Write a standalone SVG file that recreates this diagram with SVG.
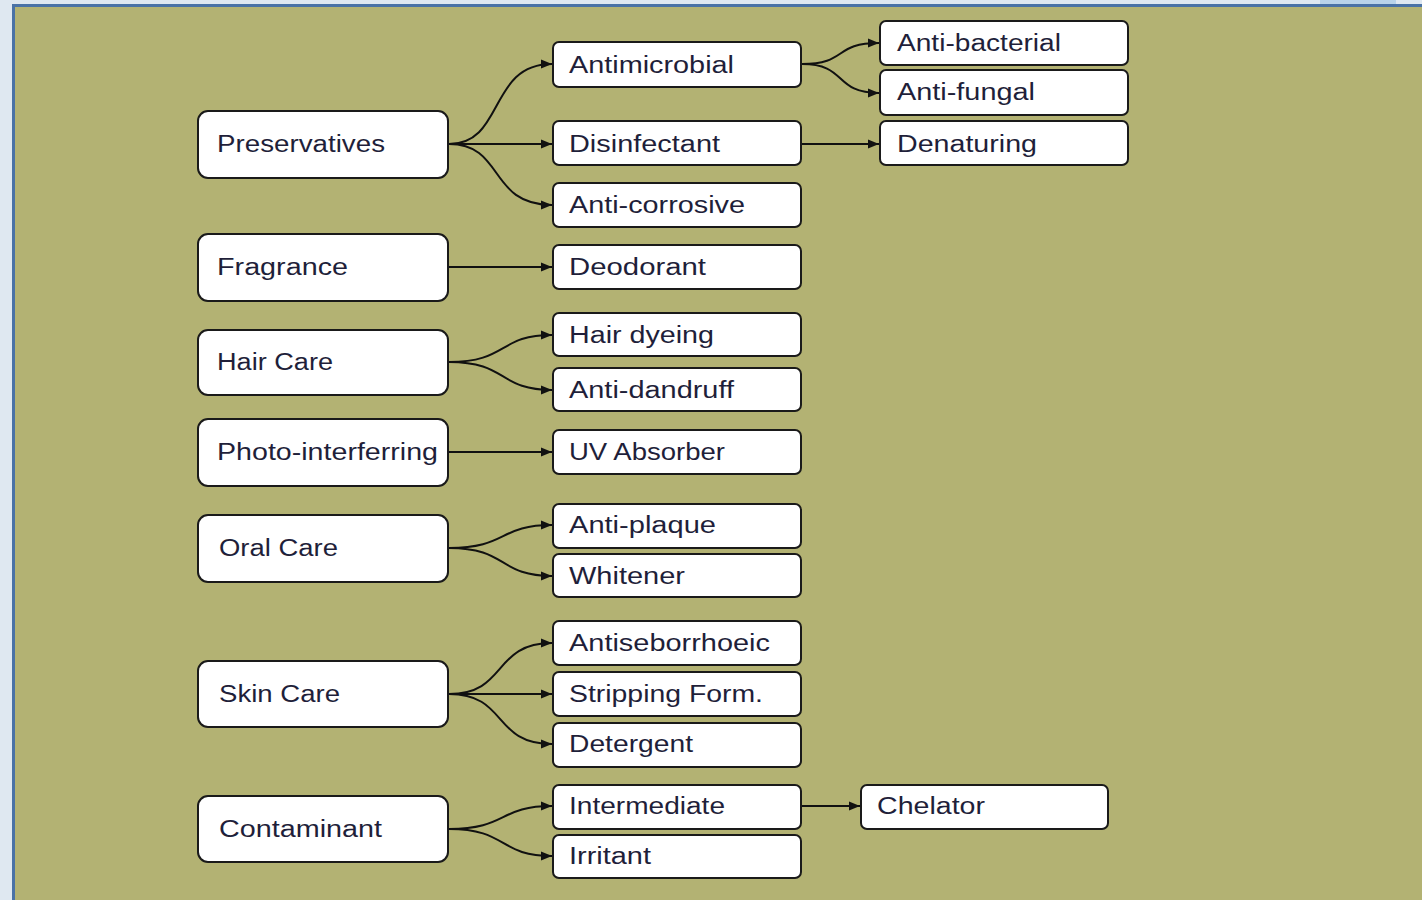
<svg xmlns="http://www.w3.org/2000/svg" width="1422" height="900" viewBox="0 0 1422 900">
<defs>
<style>
.bg{fill:#dfe8f1}
.panel{fill:#b3b273;stroke:#4a72a6;stroke-width:3}
.n rect{fill:#fff;stroke:#1a1a1a;stroke-width:2}
.n text{font-family:"Liberation Sans",Arial,sans-serif;font-size:23.5px;fill:#1f1f3a}
.c path{fill:none;stroke:#111;stroke-width:2}
</style>
<marker id="ah" viewBox="0 0 11 10" refX="11" refY="5" markerWidth="11" markerHeight="10" markerUnits="userSpaceOnUse" orient="auto">
<path d="M0,0.5 L11,5 L0,9.5 Z" fill="#111"/>
</marker>
</defs>
<rect class="bg" x="0" y="0" width="1422" height="900"/>
<rect x="1320" y="0" width="76" height="5" fill="#b9d3ea"/>
<rect class="panel" x="13.5" y="5.5" width="1420" height="900"/>

<g class="c">
<path d="M449,144 C505,144 488,64 552,64" marker-end="url(#ah)"/>
<path d="M449,144 L552,144" marker-end="url(#ah)"/>
<path d="M449,144 C505,144 488,205 552,205" marker-end="url(#ah)"/>
<path d="M449,267 L552,267" marker-end="url(#ah)"/>
<path d="M449,362 C508,362 498,335 552,335" marker-end="url(#ah)"/>
<path d="M449,362 C508,362 498,390 552,390" marker-end="url(#ah)"/>
<path d="M449,452 L552,452" marker-end="url(#ah)"/>
<path d="M449,548 C508,548 498,525 552,525" marker-end="url(#ah)"/>
<path d="M449,548 C508,548 498,576 552,576" marker-end="url(#ah)"/>
<path d="M449,694 C508,694 492,643 552,643" marker-end="url(#ah)"/>
<path d="M449,694 L552,694" marker-end="url(#ah)"/>
<path d="M449,694 C508,694 492,744 552,744" marker-end="url(#ah)"/>
<path d="M449,829 C508,829 498,806 552,806" marker-end="url(#ah)"/>
<path d="M449,829 C508,829 498,856 552,856" marker-end="url(#ah)"/>
<path d="M802,64 C848,64 833,43 879,43" marker-end="url(#ah)"/>
<path d="M802,64 C848,64 833,93 879,93" marker-end="url(#ah)"/>
<path d="M802,144 L879,144" marker-end="url(#ah)"/>
<path d="M802,806 L860,806" marker-end="url(#ah)"/>
</g>

<g id="preservatives" class="n"><rect x="198" y="111" width="250" height="67" rx="10"/><text x="217" y="152" textLength="168" lengthAdjust="spacingAndGlyphs">Preservatives</text></g>
<g id="fragrance" class="n"><rect x="198" y="234" width="250" height="67" rx="10"/><text x="217" y="275" textLength="131" lengthAdjust="spacingAndGlyphs">Fragrance</text></g>
<g id="haircare" class="n"><rect x="198" y="330" width="250" height="65" rx="10"/><text x="217" y="370" textLength="116" lengthAdjust="spacingAndGlyphs">Hair Care</text></g>
<g id="photo" class="n"><rect x="198" y="419" width="250" height="67" rx="10"/><text x="217" y="460" textLength="221" lengthAdjust="spacingAndGlyphs">Photo-interferring</text></g>
<g id="oralcare" class="n"><rect x="198" y="515" width="250" height="67" rx="10"/><text x="219" y="556" textLength="119" lengthAdjust="spacingAndGlyphs">Oral Care</text></g>
<g id="skincare" class="n"><rect x="198" y="661" width="250" height="66" rx="10"/><text x="219" y="702" textLength="121" lengthAdjust="spacingAndGlyphs">Skin Care</text></g>
<g id="contaminant" class="n"><rect x="198" y="796" width="250" height="66" rx="10"/><text x="219" y="837" textLength="163" lengthAdjust="spacingAndGlyphs">Contaminant</text></g>

<g id="antimicrobial" class="n"><rect x="553" y="42" width="248" height="45" rx="6"/><text x="569" y="73" textLength="165" lengthAdjust="spacingAndGlyphs">Antimicrobial</text></g>
<g id="disinfectant" class="n"><rect x="553" y="121" width="248" height="44" rx="6"/><text x="569" y="152" textLength="151" lengthAdjust="spacingAndGlyphs">Disinfectant</text></g>
<g id="anticorrosive" class="n"><rect x="553" y="183" width="248" height="44" rx="6"/><text x="569" y="213" textLength="176" lengthAdjust="spacingAndGlyphs">Anti-corrosive</text></g>
<g id="deodorant" class="n"><rect x="553" y="245" width="248" height="44" rx="6"/><text x="569" y="275" textLength="137" lengthAdjust="spacingAndGlyphs">Deodorant</text></g>
<g id="hairdyeing" class="n"><rect x="553" y="313" width="248" height="43" rx="6"/><text x="569" y="343" textLength="145" lengthAdjust="spacingAndGlyphs">Hair dyeing</text></g>
<g id="antidandruff" class="n"><rect x="553" y="368" width="248" height="43" rx="6"/><text x="569" y="398" textLength="165" lengthAdjust="spacingAndGlyphs">Anti-dandruff</text></g>
<g id="uvabsorber" class="n"><rect x="553" y="430" width="248" height="44" rx="6"/><text x="569" y="460" textLength="156" lengthAdjust="spacingAndGlyphs">UV Absorber</text></g>
<g id="antiplaque" class="n"><rect x="553" y="504" width="248" height="44" rx="6"/><text x="569" y="533" textLength="147" lengthAdjust="spacingAndGlyphs">Anti-plaque</text></g>
<g id="whitener" class="n"><rect x="553" y="554" width="248" height="43" rx="6"/><text x="569" y="584" textLength="116" lengthAdjust="spacingAndGlyphs">Whitener</text></g>
<g id="antiseborrhoeic" class="n"><rect x="553" y="621" width="248" height="44" rx="6"/><text x="569" y="651" textLength="201" lengthAdjust="spacingAndGlyphs">Antiseborrhoeic</text></g>
<g id="stripping" class="n"><rect x="553" y="672" width="248" height="44" rx="6"/><text x="569" y="702" textLength="194" lengthAdjust="spacingAndGlyphs">Stripping Form.</text></g>
<g id="detergent" class="n"><rect x="553" y="723" width="248" height="44" rx="6"/><text x="569" y="752" textLength="124" lengthAdjust="spacingAndGlyphs">Detergent</text></g>
<g id="intermediate" class="n"><rect x="553" y="785" width="248" height="44" rx="6"/><text x="569" y="814" textLength="156" lengthAdjust="spacingAndGlyphs">Intermediate</text></g>
<g id="irritant" class="n"><rect x="553" y="835" width="248" height="43" rx="6"/><text x="569" y="864" textLength="82" lengthAdjust="spacingAndGlyphs">Irritant</text></g>

<g id="antibacterial" class="n"><rect x="880" y="21" width="248" height="44" rx="6"/><text x="897" y="51" textLength="164" lengthAdjust="spacingAndGlyphs">Anti-bacterial</text></g>
<g id="antifungal" class="n"><rect x="880" y="70" width="248" height="45" rx="6"/><text x="897" y="100" textLength="138" lengthAdjust="spacingAndGlyphs">Anti-fungal</text></g>
<g id="denaturing" class="n"><rect x="880" y="121" width="248" height="44" rx="6"/><text x="897" y="152" textLength="140" lengthAdjust="spacingAndGlyphs">Denaturing</text></g>
<g id="chelator" class="n"><rect x="861" y="785" width="247" height="44" rx="6"/><text x="877" y="814" textLength="108" lengthAdjust="spacingAndGlyphs">Chelator</text></g>
</svg>
